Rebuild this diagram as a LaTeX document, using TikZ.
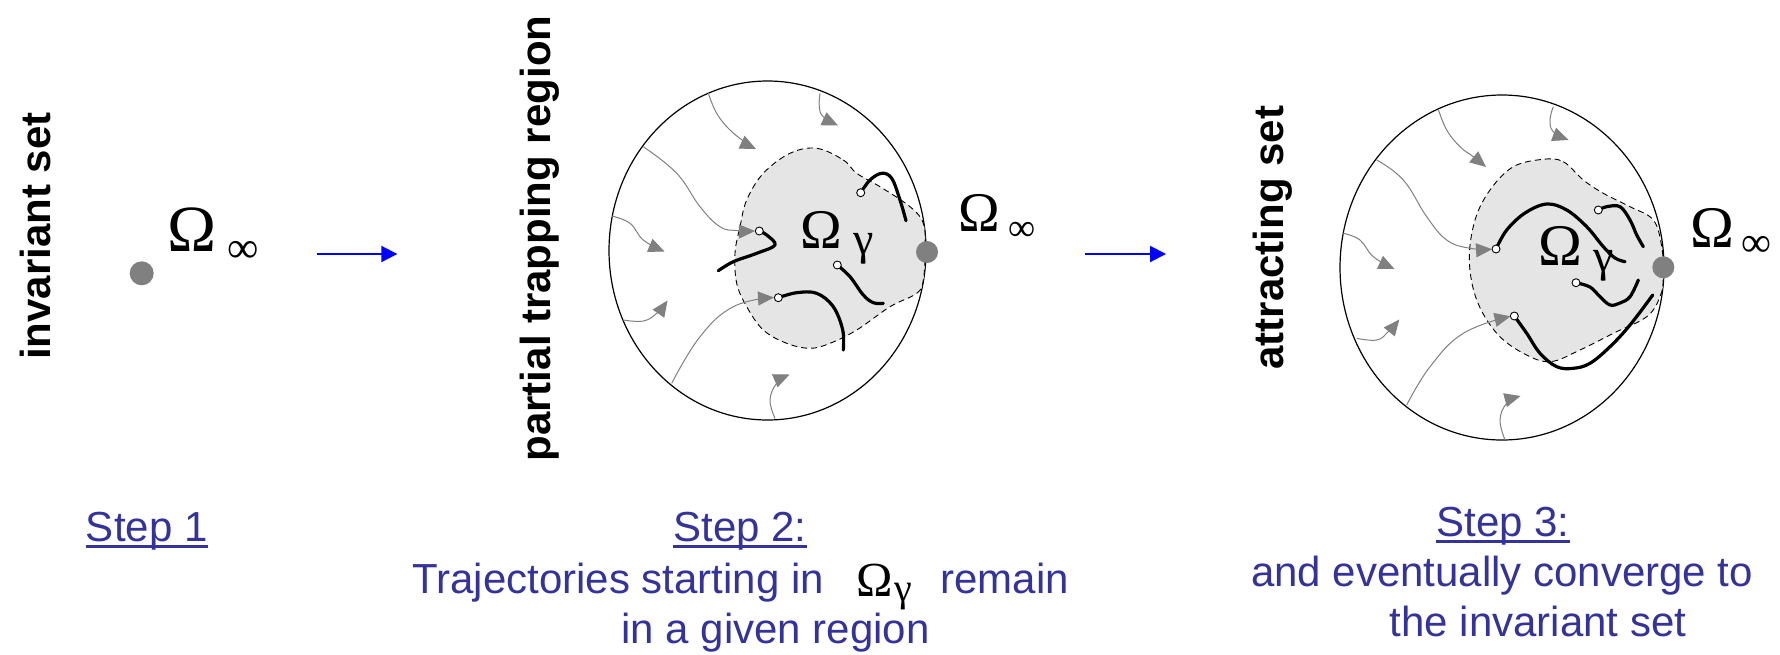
\documentclass[tikz,border=0pt]{standalone}
\usepackage{fontspec}
\setmainfont{Liberation Sans}
\newfontfamily\greekserif{Liberation Serif}
\usetikzlibrary{arrows.meta}
\definecolor{captionblue}{RGB}{51,51,153}
\definecolor{regiongray}{RGB}{229,229,229}
\definecolor{flowgray}{RGB}{128,128,128}
\definecolor{pointgray}{RGB}{128,128,128}

\begin{document}
\begin{tikzpicture}[x=0.5pt,y=-0.5pt,
  frame/.style={draw=black,line width=0.6pt},
  region/.style={fill=regiongray,draw=black,line width=0.45pt,dash pattern=on 3pt off 2pt},
  flow/.style={draw=flowgray,line width=0.5pt,-{Triangle[length=8pt,width=7pt]},fill=none},
  traj/.style={draw=black,line width=1.6pt,line cap=round,line join=round},
  trajstart/.style={draw=black,fill=white,line width=0.45pt},
  limitpoint/.style={fill=pointgray},
  stepline/.style={draw=blue,line width=1pt,-{Triangle[length=8pt,width=8pt]}},
  sidetext/.style={inner sep=0pt,rotate=90,anchor=base,font=\fontsize{21pt}{25pt}\selectfont\bfseries},
  captext/.style={inner sep=0pt,text=captionblue,font=\fontsize{21pt}{25pt}\selectfont},
  capline/.style={draw=captionblue,line width=1.5pt},
  greek/.style={inner sep=0pt,anchor=base west},
]
\fill[white] (0,0) rectangle (1780,654);
\useasboundingbox (0,0) rectangle (1780,654);

% ---------- step 1: the invariant set ----------
\node[sidetext] (inv) at (50,236) {invariant set};
\fill[limitpoint] (141.7,273.3) circle (6pt);
\node[greek,font=\greekserif\fontsize{33pt}{33pt}\selectfont] (om1) at (167,251) {Ω};
\node[greek,font=\greekserif\fontsize{22pt}{22pt}\selectfont] (inf1) at (227,262) {∞};

\coordinate (a1s) at (316.7,254);
\coordinate (a1e) at (397.3,254);
\draw[stepline] (a1s) -- (a1e);

% ---------- step 2: partial trapping region ----------
\node[sidetext] (ptr) at (550,238.5) {partial trapping region};
\draw[frame] (767.5,250.5) circle [x radius=79.25pt, y radius=84.75pt];
\draw[region] plot[smooth cycle, tension=0.6] coordinates {
  (816.7,148.3) (843.3,160) (856.7,173.3) (880,186.7) (910,206.7) (923.3,223.3)
  (925,250) (923.3,280) (916.7,293.3) (890,306.7) (856.7,330) (830,343.3)
  (810,348.3) (786.7,343.3) (763.3,330) (746.7,306.7) (736.7,283.3) (735,253.3)
  (740,226.7) (746.7,200) (763.3,173.3) (790,153.3)};

\draw[flow] plot[smooth, tension=0.7] coordinates {(708.3,93.3) (716.7,113.3) (730,130) (746.7,143.3) (756,149)};
\draw[flow] plot[smooth, tension=0.7] coordinates {(820,93.3) (819.3,106.7) (823.3,116.7) (838,125.5)};
\draw[flow] plot[smooth, tension=0.7] coordinates {(643.3,146.7) (676.7,173.3) (700,206.7) (720,226.7) (736.7,230.5) (755,231)};
\draw[flow] plot[smooth, tension=0.7] coordinates {(611.7,216) (630,223.3) (643.3,240) (664.5,251.5)};
\draw[flow] plot[smooth, tension=0.7] coordinates {(623.3,320) (643.3,321) (656.7,313.3) (667.5,300.5)};
\draw[flow] plot[smooth, tension=0.7] coordinates {(671.7,383.3) (700,336.7) (733.3,306.7) (774,297.5)};
\draw[flow] plot[smooth, tension=0.7] coordinates {(775,418.3) (770,400) (776.7,383.3) (789.5,374.5)};

\draw[traj] plot[smooth, tension=0.6] coordinates {(759.3,231) (766.7,235) (775,245) (756.7,253.3) (733.3,261.7) (718.3,270.7)};
\draw[traj] plot[smooth, tension=0.6] coordinates {(860.7,192.7) (870,180) (881.7,173.3) (891.7,178.3) (900,200) (906,220.7)};
\draw[traj] plot[smooth, tension=0.6] coordinates {(837.3,265) (850,276.7) (863.3,295) (873.3,302.7) (883.3,303.3)};
\draw[traj] plot[smooth, tension=0.6] coordinates {(778.3,297.7) (796.7,292.7) (816.7,293.3) (833.3,306.7) (842.7,330) (843.3,350)};
\draw[trajstart] (759.3,231) circle (2pt);
\draw[trajstart] (860.7,192.7) circle (2pt);
\draw[trajstart] (837.3,265) circle (2pt);
\draw[trajstart] (778.3,297.7) circle (2pt);

\node[greek,font=\greekserif\fontsize{28pt}{28pt}\selectfont] (omg2) at (800,248) {Ω};
\node[greek,font=\greekserif\fontsize{23pt}{23pt}\selectfont] (gam2) at (853,254) {γ};
\fill[limitpoint] (927,252) circle (5.5pt);
\node[greek,font=\greekserif\fontsize{28pt}{28pt}\selectfont] (om2) at (958,231) {Ω};
\node[greek,font=\greekserif\fontsize{19pt}{19pt}\selectfont] (inf2) at (1008,240) {∞};

\coordinate (a2s) at (1085,254);
\coordinate (a2e) at (1166,254);
\draw[stepline] (a2s) -- (a2e);

% ---------- step 3: attracting set ----------
\node[sidetext] (att) at (1283,237.5) {attracting set};
\draw[frame] (1502,267.5) circle [x radius=81pt, y radius=86.25pt];
\draw[region] plot[smooth cycle, tension=0.6] coordinates {
  (1543.3,159.3) (1563.3,161.7) (1583.3,180) (1603.3,193.3) (1630,206.7) (1653.3,220)
  (1661.7,246.7) (1663.3,276.7) (1660,296.7) (1646.7,316.7) (1613.3,333.3) (1580,350)
  (1550,361.7) (1523.3,353.3) (1496.7,333.3) (1476.7,300) (1469.3,260) (1475,220)
  (1490,190) (1513.3,166.7)};

\draw[flow] plot[smooth, tension=0.7] coordinates {(1438.3,109.3) (1446.7,130) (1460,146.7) (1473.3,156.7) (1486,167)};
\draw[flow] plot[smooth, tension=0.7] coordinates {(1553.3,106.7) (1550,120) (1553.3,131.7) (1568.5,140)};
\draw[flow] plot[smooth, tension=0.7] coordinates {(1376.7,160) (1403.3,180) (1426.7,216.7) (1446.7,240) (1470,248.3) (1492,249.2)};
\draw[flow] plot[smooth, tension=0.7] coordinates {(1343.3,233.3) (1360,240) (1373.3,256.7) (1394.5,269)};
\draw[flow] plot[smooth, tension=0.7] coordinates {(1356.7,338.3) (1376.7,340) (1388.3,331.7) (1399.3,319.5)};
\draw[flow] plot[smooth, tension=0.7] coordinates {(1406.7,405) (1430,366.7) (1463.3,333.3) (1510.5,316.3)};
\draw[flow] plot[smooth, tension=0.7] coordinates {(1505,440) (1500,420) (1506.7,403.3) (1520.5,396)};

\draw[traj] plot[smooth, tension=0.6] coordinates {(1496,249) (1506.7,230) (1525,213) (1546.7,204) (1566.7,210) (1586.7,226.7) (1603.3,246.7) (1615,258) (1625,261.7)};
\draw[traj] plot[smooth, tension=0.6] coordinates {(1598.3,210) (1606.7,206.7) (1620,206.7) (1630,220) (1636.7,235) (1643.3,246.7)};
\draw[traj] plot[smooth, tension=0.6] coordinates {(1576,282.7) (1590,287) (1600,296.7) (1610,305) (1620,303) (1630,296.7) (1638.3,280)};
\draw[traj] plot[smooth, tension=0.6] coordinates {(1514.3,316) (1526.7,333.3) (1540,353.3) (1556.7,366.7) (1573.3,368.3) (1590,363.3) (1610,346.7) (1630,325) (1652.7,295)};
\draw[trajstart] (1496,249) circle (2pt);
\draw[trajstart] (1598.3,210) circle (2pt);
\draw[trajstart] (1576,282.7) circle (2pt);
\draw[trajstart] (1514.3,316) circle (2pt);

\node[greek,font=\greekserif\fontsize{29.5pt}{29.5pt}\selectfont] (omg3) at (1538,265) {Ω};
\node[greek,font=\greekserif\fontsize{23pt}{23pt}\selectfont] (gam3) at (1593,271) {γ};
\fill[limitpoint] (1663.3,267.3) circle (5.5pt);
\node[greek,font=\greekserif\fontsize{29.5pt}{29.5pt}\selectfont] (om3) at (1690.5,247) {Ω};
\node[greek,font=\greekserif\fontsize{21pt}{21pt}\selectfont] (inf3) at (1741,256) {∞};

% ---------- captions ----------
\node[captext,anchor=base] (s1) at (146.7,541.7) {Step 1};
\draw[capline] ([yshift=-2.6pt]s1.base west) -- ([yshift=-2.6pt]s1.base east);

\node[captext,anchor=base] (s2) at (740,541.7) {Step 2:};
\draw[capline] ([yshift=-2.6pt]s2.base west) -- ([yshift=-2.6pt]s2.base east);
\node[captext,anchor=base west] (s2a) at (412,593) {Trajectories starting in};
\node[greek,text=black,font=\greekserif\fontsize{24.5pt}{24.5pt}\selectfont] (s2om) at (856,596) {Ω};
\node[greek,text=black,font=\greekserif\fontsize{20pt}{20pt}\selectfont] (s2ga) at (894,601) {γ};
\node[captext,anchor=base west] (s2b) at (940,593) {remain};
\node[captext,anchor=base west] (s2c) at (621,643) {in a given region};

\node[captext,anchor=base] (s3) at (1503,536.7) {Step 3:};
\draw[capline] ([yshift=-2.6pt]s3.base west) -- ([yshift=-2.6pt]s3.base east);
\node[captext,anchor=base] (s3a) at (1502,586.7) {and eventually converge to};
\node[captext,anchor=base] (s3b) at (1538,636.7) {the invariant set};
\end{tikzpicture}
\end{document}
